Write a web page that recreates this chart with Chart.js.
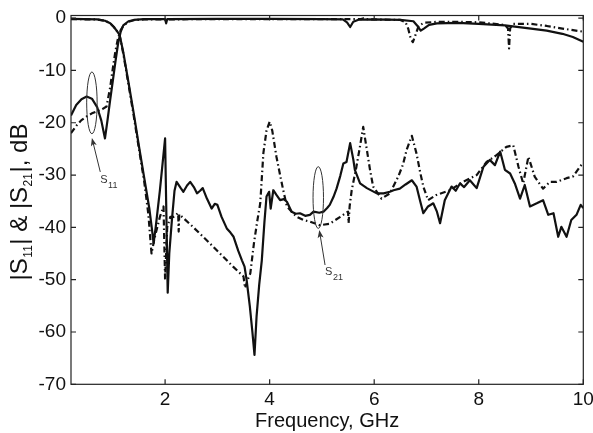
<!DOCTYPE html>
<html>
<head>
<meta charset="utf-8">
<title>|S11| & |S21|</title>
<script src="https://cdn.jsdelivr.net/npm/chart.js@4.4.1/dist/chart.umd.min.js"></script>
<style>
    html, body { margin: 0; padding: 0; background: #fff; }
    #wrap { width: 593px; height: 433px; position: relative; }
</style>
</head>
<body>
<div id="wrap"><canvas id="chart"></canvas></div>
<script>
var xTicks = [2, 4, 6, 8, 10];
var yTicks = [-70, -60, -50, -40, -30, -20, -10, 0];

// |S21|, solid trace
var s21SolidFreq = [0.2, 0.3, 0.4, 0.5, 0.6, 0.7, 0.78, 0.85, 0.9, 0.95, 1.0, 1.05, 1.1, 1.15, 1.2, 1.3, 1.4, 1.6,
    2.0, 2.02, 2.04, 3.0, 4.0, 5.0, 5.4, 5.48, 5.54, 5.6, 5.7, 6.0, 6.5, 6.75, 6.82, 6.89, 6.95, 7.05, 7.2,
    7.6, 8.0, 8.5, 9.0, 9.3, 9.6, 9.8, 10.0];
var s21SolidDb = [-18.6, -16.6, -15.5, -15.0, -15.4, -17.0, -19.6, -23.0, -19.4, -15.6, -12.0, -8.3, -4.9, -2.6, -1.4, -0.6, -0.35, -0.2,
    -0.2, -1.0, -0.2, -0.15, -0.15, -0.2, -0.25, -0.8, -1.7, -0.7, -0.3, -0.25, -0.35, -0.6, -1.4, -2.4, -2.0, -1.3, -1.0,
    -0.9, -1.1, -1.4, -2.0, -2.4, -3.0, -3.6, -4.5];

// |S21|, dash-dot trace
var s21DashFreq = [0.2, 0.3, 0.4, 0.5, 0.6, 0.7, 0.8, 0.88, 0.95, 1.0, 1.05, 1.1, 1.15, 1.2, 1.3, 1.4, 1.6,
    3.0, 5.0, 5.75, 5.8, 5.85, 6.0, 6.5, 6.6, 6.65, 6.7, 6.74, 6.78, 6.85, 6.95, 7.2, 7.6, 8.0, 8.5, 8.56, 8.58,
    8.6, 8.65, 9.0, 9.3, 9.6, 10.0];
var s21DashDb = [-22.0, -20.6, -19.5, -18.8, -18.2, -17.8, -17.4, -16.9, -13.2, -9.6, -6.3, -3.8, -2.3, -1.5, -0.7, -0.4, -0.25,
    -0.2, -0.2, -0.2, -0.05, -0.2, -0.25, -0.35, -0.8, -2.0, -4.0, -4.6, -3.5, -1.5, -0.9, -0.7, -0.7, -0.8, -1.3, -2.0, -5.8,
    -2.0, -1.1, -1.1, -1.5, -2.0, -2.6];

// |S11|, solid trace
var s11SolidFreq = [0.2, 0.7, 0.85, 0.95, 1.02, 1.08, 1.13, 1.2, 1.3, 1.4, 1.5, 1.6, 1.7, 1.75, 1.78, 1.82, 1.9, 2.0,
    2.02, 2.05, 2.08, 2.13, 2.18, 2.22, 2.3, 2.35, 2.42, 2.48, 2.55, 2.61, 2.67, 2.72, 2.8, 2.89, 2.95, 3.0,
    3.08, 3.18, 3.25, 3.31, 3.4, 3.47, 3.52, 3.56, 3.62, 3.67, 3.71, 3.75, 3.8, 3.85, 3.9, 3.94, 3.99, 4.02,
    4.07, 4.13, 4.2, 4.27, 4.33, 4.42, 4.5, 4.58, 4.68, 4.77, 4.84, 4.95, 5.03, 5.1, 5.15, 5.22, 5.28, 5.35,
    5.41, 5.47, 5.54, 5.6, 5.63, 5.73, 5.86, 6.05, 6.18, 6.3, 6.37, 6.49, 6.6, 6.72, 6.81, 6.88, 6.94, 7.03,
    7.13, 7.2, 7.26, 7.35, 7.48, 7.56, 7.64, 7.72, 7.83, 7.9, 7.96, 8.09, 8.21, 8.31, 8.41, 8.5, 8.6, 8.69,
    8.79, 8.88, 8.98, 9.11, 9.23, 9.33, 9.43, 9.52, 9.58, 9.68, 9.77, 9.87, 9.95, 10.0];
var s11SolidDb = [-0.15, -0.25, -0.5, -1.0, -1.7, -2.5, -3.2, -6.5, -12.3, -18.2, -24.5, -30.5, -36.5, -40.5, -43.0, -40.0, -33.0, -23.0,
    -35.0, -52.5, -45.0, -38.6, -33.0, -31.3, -32.5, -33.2, -32.0, -31.3, -32.3, -33.5, -33.0, -32.5, -34.5, -36.4, -35.5, -35.7,
    -38.0, -40.2, -41.0, -41.8, -44.5, -46.3, -47.5, -50.1, -55.0, -60.0, -64.4, -57.0, -51.0, -46.3, -39.0, -34.1, -33.2, -36.4,
    -32.9, -33.8, -34.8, -34.6, -35.1, -37.0, -37.4, -37.3, -37.8, -37.6, -37.0, -37.2, -37.0, -36.3, -35.7, -34.2, -32.6, -30.2,
    -27.8, -27.5, -23.9, -27.0, -29.0, -31.6, -32.5, -33.5, -33.5, -33.2, -32.9, -32.6, -31.8, -31.0, -32.2, -35.0, -37.3, -36.0,
    -35.4, -37.0, -39.2, -34.8, -32.2, -33.0, -31.6, -32.3, -31.0, -31.8, -32.5, -28.4, -27.1, -28.1, -25.5, -29.0, -29.7, -31.6,
    -34.5, -31.9, -36.0, -35.4, -34.8, -37.6, -37.3, -41.8, -39.9, -41.8, -38.6, -37.6, -35.7, -36.3];

// |S11|, dash-dot trace
var s11DashFreq = [0.2, 0.7, 0.85, 0.95, 1.02, 1.08, 1.13, 1.2, 1.3, 1.4, 1.5, 1.6, 1.68, 1.74, 1.8, 1.9, 1.97, 2.0,
    2.04, 2.1, 2.16, 2.22, 2.25, 2.26, 2.27, 2.5, 2.8, 3.1, 3.3, 3.5, 3.53, 3.58, 3.63, 3.7, 3.76, 3.82, 3.88,
    3.94, 4.0, 4.05, 4.13, 4.2, 4.26, 4.33, 4.45, 4.52, 4.65, 4.77, 4.96, 5.15, 5.35, 5.45, 5.5, 5.51, 5.53,
    5.57, 5.66, 5.72, 5.79, 5.86, 5.92, 5.98, 6.14, 6.3, 6.46, 6.55, 6.62, 6.72, 6.81, 6.88, 6.94, 7.03, 7.19,
    7.45, 7.7, 7.96, 8.15, 8.34, 8.53, 8.66, 8.76, 8.85, 8.95, 9.07, 9.23, 9.36, 9.49, 9.68, 9.8, 9.96, 10.0];
var s11DashDb = [-0.2, -0.25, -0.5, -1.0, -1.7, -2.5, -3.3, -6.8, -12.7, -18.7, -25.0, -31.2, -37.5, -45.0, -42.0, -38.0, -36.0, -50.0,
    -40.0, -38.0, -38.0, -37.5, -37.3, -40.8, -37.5, -39.6, -42.5, -45.5, -47.5, -49.4, -51.6, -50.0, -48.8, -43.0, -39.0, -35.4, -25.8,
    -21.5, -19.8, -21.5, -26.5, -30.0, -32.9, -36.0, -37.3, -38.0, -38.6, -38.9, -39.6, -39.3, -38.0, -37.3, -37.0, -39.2, -36.0,
    -32.9, -28.4, -25.0, -20.8, -25.2, -29.0, -32.2, -34.5, -33.5, -30.3, -28.0, -25.2, -22.5, -25.9, -29.5, -32.2, -34.8, -33.8,
    -32.9, -31.3, -30.0, -27.5, -26.2, -24.6, -24.3, -28.4, -31.6, -26.5, -30.3, -32.6, -31.3, -31.3, -30.6, -30.3, -28.1, -27.7];

// callouts: ellipse centre / radii, arrow tail -> head, label anchor (GHz, dB)
var callouts = [
    {label: 'S', sub: '11', ellipse: [0.6, -16.2, 0.1, 5.9], arrow: [0.76, -29.4, 0.6, -22.9], text: [0.76, -31.5]},
    {label: 'S', sub: '21', ellipse: [4.93, -34.3, 0.1, 5.9], arrow: [5.06, -47.2, 4.95, -40.5], text: [5.06, -49.1]}
];

function pairs(xs, ys) {
    return xs.map(function (x, i) {
        return {x: x, y: ys[i]};
    });
}

var FONT = "'Liberation Sans', Arial, Helvetica, sans-serif";
var INK = '#111';
var DASH = [6, 3, 1.5, 3];

var framePlugin = {
    id: 'frame',
    afterDatasetsDraw: function (chart) {
        var ctx = chart.ctx;
        var a = chart.chartArea;
        var sx = chart.scales.x;
        var sy = chart.scales.y;
        ctx.save();
        ctx.strokeStyle = '#222';
        ctx.lineWidth = 1.2;
        ctx.strokeRect(a.left, a.top, a.right - a.left, a.bottom - a.top);
        ctx.beginPath();
        xTicks.forEach(function (v) {
            var px = sx.getPixelForValue(v);
            ctx.moveTo(px, a.bottom); ctx.lineTo(px, a.bottom - 5);
            ctx.moveTo(px, a.top); ctx.lineTo(px, a.top + 5);
        });
        yTicks.forEach(function (v) {
            var py = sy.getPixelForValue(v);
            ctx.moveTo(a.left, py); ctx.lineTo(a.left + 5, py);
            ctx.moveTo(a.right, py); ctx.lineTo(a.right - 5, py);
        });
        ctx.stroke();

        // callouts
        ctx.strokeStyle = '#333';
        ctx.fillStyle = '#333';
        ctx.lineWidth = 1;
        callouts.forEach(function (c) {
            var e = c.ellipse;
            var cx = sx.getPixelForValue(e[0]);
            var cy = sy.getPixelForValue(e[1]);
            var rx = Math.abs(sx.getPixelForValue(e[0] + e[2]) - cx);
            var ry = Math.abs(sy.getPixelForValue(e[1] + e[3]) - cy);
            ctx.beginPath();
            ctx.ellipse(cx, cy, rx, ry, 0, 0, Math.PI * 2);
            ctx.stroke();

            var x0 = sx.getPixelForValue(c.arrow[0]), y0 = sy.getPixelForValue(c.arrow[1]);
            var x1 = sx.getPixelForValue(c.arrow[2]), y1 = sy.getPixelForValue(c.arrow[3]);
            var ang = Math.atan2(y1 - y0, x1 - x0);
            ctx.beginPath();
            ctx.moveTo(x0, y0);
            ctx.lineTo(x1 - 5 * Math.cos(ang), y1 - 5 * Math.sin(ang));
            ctx.stroke();
            ctx.beginPath();
            ctx.moveTo(x1, y1);
            ctx.lineTo(x1 - 8 * Math.cos(ang) + 3 * Math.sin(ang), y1 - 8 * Math.sin(ang) - 3 * Math.cos(ang));
            ctx.lineTo(x1 - 6 * Math.cos(ang), y1 - 6 * Math.sin(ang));
            ctx.lineTo(x1 - 8 * Math.cos(ang) - 3 * Math.sin(ang), y1 - 8 * Math.sin(ang) + 3 * Math.cos(ang));
            ctx.closePath();
            ctx.fill();

            var tx = sx.getPixelForValue(c.text[0]);
            var ty = sy.getPixelForValue(c.text[1]);
            ctx.textAlign = 'left';
            ctx.textBaseline = 'alphabetic';
            ctx.font = '11px ' + FONT;
            ctx.fillText(c.label, tx, ty);
            var w = ctx.measureText(c.label).width;
            ctx.font = '9px ' + FONT;
            ctx.fillText(c.sub, tx + w + 0.5, ty + 5);
        });

        // axis titles
        ctx.fillStyle = INK;
        ctx.textAlign = 'center';
        ctx.textBaseline = 'alphabetic';
        ctx.font = '20px ' + FONT;
        ctx.fillText('Frequency, GHz', (a.left + a.right) / 2, 426.5);

        // y title with subscripts, narrowed along the reading direction to the original's length
        var parts = [['|S', 0], ['11', 1], ['| & |S', 0], ['21', 1], ['|, dB', 0]];
        var fonts = ['24px ' + FONT, '12px ' + FONT];
        var total = 0;
        parts.forEach(function (p) {
            ctx.font = fonts[p[1]];
            total += ctx.measureText(p[0]).width + (p[1] ? 1 : 0);
        });
        var squeeze = Math.min(1, 159 / total);
        ctx.translate(26.5, 202);
        ctx.rotate(-Math.PI / 2);
        ctx.scale(squeeze, 1);
        ctx.textAlign = 'left';
        var pos = -total / 2;
        parts.forEach(function (p) {
            ctx.font = fonts[p[1]];
            ctx.fillText(p[0], pos + (p[1] ? 0.5 : 0), p[1] ? 5.5 : 0);
            pos += ctx.measureText(p[0]).width + (p[1] ? 1 : 0);
        });
        ctx.restore();
    }
};

var chart = new Chart(document.getElementById('chart').getContext('2d'), {
    type: 'line',
    data: {
        datasets: [
            {label: '|S21| solid', data: pairs(s21SolidFreq, s21SolidDb), borderColor: INK, borderWidth: 2.2},
            {label: '|S21| dash-dot', data: pairs(s21DashFreq, s21DashDb), borderColor: INK, borderWidth: 2.2, borderDash: DASH},
            {label: '|S11| solid', data: pairs(s11SolidFreq, s11SolidDb), borderColor: INK, borderWidth: 2.2},
            {label: '|S11| dash-dot', data: pairs(s11DashFreq, s11DashDb), borderColor: INK, borderWidth: 2.2, borderDash: DASH}
        ]
    },
    options: {
        responsive: true,
        maintainAspectRatio: false,
        animation: false,
        events: [],
        elements: {
            point: {radius: 0},
            line: {tension: 0, borderJoinStyle: 'round', fill: false}
        },
        layout: {padding: {top: 15.5, right: 9.7, bottom: 0, left: 0}},
        plugins: {
            legend: {display: false},
            tooltip: {enabled: false}
        },
        scales: {
            x: {
                type: 'linear',
                min: 0.2,
                max: 10,
                grid: {display: false, drawTicks: false},
                border: {display: false},
                ticks: {
                    color: INK,
                    font: {family: FONT, size: 19},
                    padding: 4,
                    maxRotation: 0,
                    autoSkip: false
                },
                afterBuildTicks: function (scale) {
                    scale.ticks = xTicks.map(function (v) { return {value: v}; });
                },
                afterFit: function (scale) {
                    scale.height = 48.7;
                    scale.paddingLeft = 0;
                    scale.paddingRight = 0;
                }
            },
            y: {
                type: 'linear',
                min: -70,
                max: 0.5,
                grid: {display: false, drawTicks: false},
                border: {display: false},
                ticks: {
                    color: INK,
                    font: {family: FONT, size: 19},
                    padding: 5
                },
                afterBuildTicks: function (scale) {
                    scale.ticks = yTicks.map(function (v) { return {value: v}; });
                },
                afterFit: function (scale) {
                    scale.width = 71;
                    scale.paddingTop = 0;
                    scale.paddingBottom = 0;
                }
            }
        }
    },
    plugins: [framePlugin]
});
</script>
</body>
</html>
